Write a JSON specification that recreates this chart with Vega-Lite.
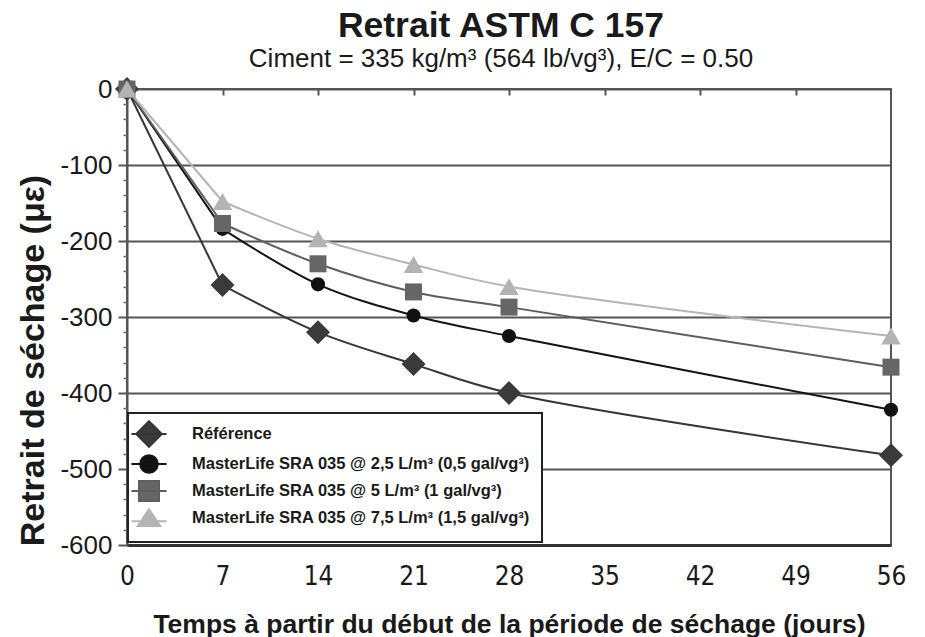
{
  "$schema": "https://vega.github.io/schema/vega-lite/v6.json",
  "width": 764,
  "height": 456,
  "autosize": "none",
  "padding": {"left": 127, "top": 89, "right": 34, "bottom": 92},
  "background": "white",
  "config": {
    "font": "Liberation Sans",
    "view": {"stroke": "#555555", "strokeWidth": 2},
    "legend": {
      "orient": "none",
      "legendX": 1,
      "legendY": 324,
      "padding": 12,
      "strokeColor": "#222222",
      "strokeWidth": 2,
      "fillColor": "white",
      "labelFont": "Liberation Sans",
      "labelFontSize": 16.5,
      "labelFontWeight": "bold",
      "labelColor": "#1a1a1a",
      "labelLimit": 700,
      "labelOffset": 34,
      "symbolSize": 256,
      "symbolStrokeWidth": 2,
      "symbolOpacity": 1,
      "symbolBaseFillColor": "#555555",
      "symbolBaseStrokeColor": "#555555",
      "rowPadding": 0
    }
  },
  "title": {
    "text": "Retrait ASTM C 157",
    "subtitle": "Ciment = 335 kg/m³ (564 lb/vg³), E/C = 0.50",
    "fontSize": 35.5,
    "fontWeight": "bold",
    "subtitleFontSize": 26,
    "subtitleFont": "Liberation Sans",
    "color": "#1a1a1a",
    "subtitleColor": "#1a1a1a",
    "anchor": "middle",
    "dx": -8,
    "offset": 4,
    "subtitlePadding": 2
  },
  "data": {
    "values": [
      {"serie": "Référence", "jours": 0, "retrait": 0},
      {"serie": "Référence", "jours": 7, "retrait": -258},
      {"serie": "Référence", "jours": 14, "retrait": -320},
      {"serie": "Référence", "jours": 21, "retrait": -362},
      {"serie": "Référence", "jours": 28, "retrait": -400},
      {"serie": "Référence", "jours": 56, "retrait": -482},
      {"serie": "MasterLife SRA 035 @ 2,5 L/m³ (0,5 gal/vg³)", "jours": 0, "retrait": 0},
      {"serie": "MasterLife SRA 035 @ 2,5 L/m³ (0,5 gal/vg³)", "jours": 7, "retrait": -184},
      {"serie": "MasterLife SRA 035 @ 2,5 L/m³ (0,5 gal/vg³)", "jours": 14, "retrait": -257},
      {"serie": "MasterLife SRA 035 @ 2,5 L/m³ (0,5 gal/vg³)", "jours": 21, "retrait": -298},
      {"serie": "MasterLife SRA 035 @ 2,5 L/m³ (0,5 gal/vg³)", "jours": 28, "retrait": -325},
      {"serie": "MasterLife SRA 035 @ 2,5 L/m³ (0,5 gal/vg³)", "jours": 56, "retrait": -422},
      {"serie": "MasterLife SRA 035 @ 5 L/m³ (1 gal/vg³)", "jours": 0, "retrait": 0},
      {"serie": "MasterLife SRA 035 @ 5 L/m³ (1 gal/vg³)", "jours": 7, "retrait": -177},
      {"serie": "MasterLife SRA 035 @ 5 L/m³ (1 gal/vg³)", "jours": 14, "retrait": -230},
      {"serie": "MasterLife SRA 035 @ 5 L/m³ (1 gal/vg³)", "jours": 21, "retrait": -267},
      {"serie": "MasterLife SRA 035 @ 5 L/m³ (1 gal/vg³)", "jours": 28, "retrait": -287},
      {"serie": "MasterLife SRA 035 @ 5 L/m³ (1 gal/vg³)", "jours": 56, "retrait": -366},
      {"serie": "MasterLife SRA 035 @ 7,5 L/m³ (1,5 gal/vg³)", "jours": 0, "retrait": 0},
      {"serie": "MasterLife SRA 035 @ 7,5 L/m³ (1,5 gal/vg³)", "jours": 7, "retrait": -148},
      {"serie": "MasterLife SRA 035 @ 7,5 L/m³ (1,5 gal/vg³)", "jours": 14, "retrait": -197},
      {"serie": "MasterLife SRA 035 @ 7,5 L/m³ (1,5 gal/vg³)", "jours": 21, "retrait": -231},
      {"serie": "MasterLife SRA 035 @ 7,5 L/m³ (1,5 gal/vg³)", "jours": 28, "retrait": -260},
      {"serie": "MasterLife SRA 035 @ 7,5 L/m³ (1,5 gal/vg³)", "jours": 56, "retrait": -325}
    ]
  },
  "layer": [
    {
      "transform": [{"filter": "datum.jours <= 7"}],
      "mark": {"type": "line", "interpolate": "linear", "strokeWidth": 2},
      "encoding": {
        "x": {
          "field": "jours", "type": "quantitative",
          "scale": {"domain": [0, 56], "nice": false, "zero": false},
          "axis": {
            "values": [0, 7, 14, 21, 28, 35, 42, 49, 56],
            "grid": false, "ticks": false,
            "domainColor": "#333333", "domainWidth": 3,
            "labelFont": "Liberation Sans Narrow, DejaVu Sans Condensed, Liberation Sans", "labelFontSize": 26, "labelColor": "#1a1a1a",
            "labelPadding": 18, "labelFlush": false,
            "title": "Temps à partir du début de la période de séchage (jours)",
            "titleFont": "Liberation Sans", "titleFontSize": 26.5, "titleFontWeight": "bold",
            "titleColor": "#1a1a1a", "titleY": 87, "titleBaseline": "alphabetic"
          }
        },
        "y": {
          "field": "retrait", "type": "quantitative",
          "scale": {"domain": [-600, 0], "nice": false},
          "axis": {
            "values": [-600, -500, -400, -300, -200, -100, 0],
            "labelExpr": "toString(datum.value)",
            "grid": true, "gridColor": "#555555", "gridWidth": 2,
            "tickColor": "#555555", "tickWidth": 2, "tickSize": 9,
            "domainColor": "#555555", "domainWidth": 2,
            "labelFontSize": 26, "labelColor": "#1a1a1a", "labelPadding": 6,
            "title": "Retrait de séchage (με)",
            "titleFontSize": 34, "titleFontWeight": "bold", "titleColor": "#1a1a1a",
            "titleX": -84, "titleY": 271, "titleBaseline": "alphabetic", "titleAlign": "center"
          }
        },
        "color": {
          "field": "serie", "type": "nominal",
          "scale": {
            "domain": ["MasterLife SRA 035 @ 7,5 L/m³ (1,5 gal/vg³)", "MasterLife SRA 035 @ 5 L/m³ (1 gal/vg³)", "MasterLife SRA 035 @ 2,5 L/m³ (0,5 gal/vg³)", "Référence"],
            "range": ["#b5b5b5", "#5e5e5e", "#141414", "#363636"]
          },
          "legend": null
        }
      }
    },
    {
      "transform": [{"filter": "datum.jours >= 7"}],
      "mark": {"type": "line", "interpolate": "catmull-rom", "strokeWidth": 2},
      "encoding": {
        "x": {"field": "jours", "type": "quantitative", "axis": null},
        "y": {"field": "retrait", "type": "quantitative", "axis": null},
        "color": {"field": "serie", "type": "nominal", "legend": null}
      }
    },
    {
      "transform": [{"filter": {"field": "serie", "equal": "Référence"}}],
      "mark": {"type": "point", "filled": true, "opacity": 1, "shape": "diamond", "size": 576, "color": "#3a3a3a"},
      "encoding": {
        "x": {"field": "jours", "type": "quantitative", "axis": null},
        "y": {"field": "retrait", "type": "quantitative", "axis": null}
      }
    },
    {
      "transform": [{"filter": {"field": "serie", "equal": "MasterLife SRA 035 @ 2,5 L/m³ (0,5 gal/vg³)"}}],
      "mark": {"type": "point", "filled": true, "opacity": 1, "shape": "circle", "size": 200, "color": "#111111"},
      "encoding": {
        "x": {"field": "jours", "type": "quantitative", "axis": null},
        "y": {"field": "retrait", "type": "quantitative", "axis": null}
      }
    },
    {
      "transform": [{"filter": {"field": "serie", "equal": "MasterLife SRA 035 @ 5 L/m³ (1 gal/vg³)"}}],
      "mark": {"type": "point", "filled": true, "opacity": 1, "shape": "square", "size": 289, "color": "#666666"},
      "encoding": {
        "x": {"field": "jours", "type": "quantitative", "axis": null},
        "y": {"field": "retrait", "type": "quantitative", "axis": null}
      }
    },
    {
      "transform": [{"filter": {"field": "serie", "equal": "MasterLife SRA 035 @ 7,5 L/m³ (1,5 gal/vg³)"}}],
      "mark": {"type": "point", "filled": true, "opacity": 1, "shape": "triangle-up", "size": 380, "color": "#b3b3b3"},
      "encoding": {
        "x": {"field": "jours", "type": "quantitative", "axis": null},
        "y": {"field": "retrait", "type": "quantitative", "axis": null}
      }
    },
    {
      "mark": {"type": "point", "filled": true, "opacity": 0, "size": 256, "strokeWidth": 2},
      "encoding": {
        "x": {"field": "jours", "type": "quantitative", "axis": null},
        "y": {"field": "retrait", "type": "quantitative", "axis": null},
        "fill": {
          "field": "serie", "type": "nominal",
          "scale": {
            "domain": ["Référence", "MasterLife SRA 035 @ 2,5 L/m³ (0,5 gal/vg³)", "MasterLife SRA 035 @ 5 L/m³ (1 gal/vg³)", "MasterLife SRA 035 @ 7,5 L/m³ (1,5 gal/vg³)"],
            "range": ["#3a3a3a", "#111111", "#666666", "#b3b3b3"]
          },
          "legend": {"title": null, "labelExpr": "datum.label + '\u00a0\u00a0\u00a0\u00a0\u00a0\u00a0\u00a0\u00a0'"}
        },
        "stroke": {
          "field": "serie", "type": "nominal",
          "scale": {
            "domain": ["Référence", "MasterLife SRA 035 @ 2,5 L/m³ (0,5 gal/vg³)", "MasterLife SRA 035 @ 5 L/m³ (1 gal/vg³)", "MasterLife SRA 035 @ 7,5 L/m³ (1,5 gal/vg³)"],
            "range": ["#363636", "#141414", "#5e5e5e", "#b5b5b5"]
          },
          "legend": {"title": null, "labelExpr": "datum.label + '\u00a0\u00a0\u00a0\u00a0\u00a0\u00a0\u00a0\u00a0'"}
        },
        "shape": {
          "field": "serie", "type": "nominal",
          "scale": {
            "domain": ["Référence", "MasterLife SRA 035 @ 2,5 L/m³ (0,5 gal/vg³)", "MasterLife SRA 035 @ 5 L/m³ (1 gal/vg³)", "MasterLife SRA 035 @ 7,5 L/m³ (1,5 gal/vg³)"],
            "range": [
              "M-2.2,0H2.2M0,-1.6L1.6,0L0,1.6L-1.6,0Z",
              "M-2.2,0H2.2M1.1,0C1.1,0.6 0.6,1.1 0,1.1C-0.6,1.1 -1.1,0.6 -1.1,0C-1.1,-0.6 -0.6,-1.1 0,-1.1C0.6,-1.1 1.1,-0.6 1.1,0Z",
              "M-2.2,0H2.2M-1.25,-1.25H1.25V1.25H-1.25Z",
              "M-2.2,0.4H2.2M0,-1.1L1.4,1H-1.4Z"
            ]
          },
          "legend": {"title": null, "labelExpr": "datum.label + '\u00a0\u00a0\u00a0\u00a0\u00a0\u00a0\u00a0\u00a0'"}
        }
      }
    },
    {
      "mark": {"type": "point", "opacity": 0},
      "encoding": {
        "x": {
          "field": "jours", "type": "quantitative",
          "axis": {
            "orient": "top", "values": [7, 14, 21, 28, 35, 42, 49],
            "labels": false, "domain": false, "grid": false,
            "tickSize": -6, "tickColor": "#555555", "tickWidth": 2, "title": null
          }
        },
        "y": {
          "field": "retrait", "type": "quantitative",
          "axis": {
            "orient": "left",
            "values": [-580, -560, -540, -520, -480, -460, -440, -420, -380, -360, -340, -320, -280, -260, -240, -220, -180, -160, -140, -120, -80, -60, -40, -20],
            "labels": false, "domain": false, "grid": false,
            "tickSize": 4, "tickColor": "#666666", "tickWidth": 1.5, "title": null
          }
        }
      }
    }
  ],
  "resolve": {
    "axis": {"x": "independent", "y": "independent"}
  }
}
